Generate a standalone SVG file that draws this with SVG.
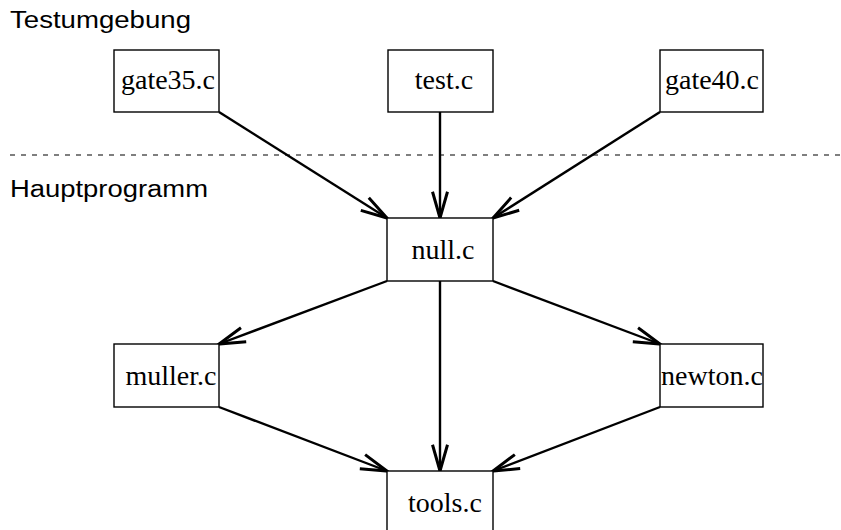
<svg xmlns="http://www.w3.org/2000/svg" width="841" height="530" viewBox="0 0 841 530">
<defs>
<style>
.box{fill:#fff;stroke:#000;stroke-width:1.4}
.lbl{font-family:"Liberation Serif","Times New Roman",serif;font-size:28px;text-anchor:middle;fill:#000}
.sec{font-family:"Liberation Sans",Arial,sans-serif;font-size:23px;fill:#000}
.edge{stroke:#000;stroke-width:2.4;fill:none;marker-end:url(#arr)}
</style>
<marker id="arr" markerUnits="userSpaceOnUse" markerWidth="30" markerHeight="20" viewBox="-22 -8 24 16" refX="0" refY="0" orient="auto" overflow="visible">
<path d="M -21 -6 L 0 0 L -21 6" fill="none" stroke="#000" stroke-width="2.4"/>
</marker>
</defs>
<rect width="841" height="530" fill="#fff"/>
<text class="sec" x="10" y="28" textLength="181" lengthAdjust="spacingAndGlyphs">Testumgebung</text>
<text class="sec" x="10" y="197" textLength="198" lengthAdjust="spacingAndGlyphs">Hauptprogramm</text>
<line x1="10" y1="155" x2="841" y2="155" stroke="#000" stroke-width="1.2" stroke-dasharray="5 6"/>
<g id="connectors">
<line class="edge" x1="219" y1="112" x2="387" y2="218"/>
<line class="edge" x1="440" y1="112" x2="440" y2="218"/>
<line class="edge" x1="660" y1="112" x2="493" y2="218"/>
<line class="edge" x1="387" y1="281" x2="219" y2="344"/>
<line class="edge" x1="493" y1="281" x2="660" y2="344"/>
<line class="edge" x1="440" y1="281" x2="440" y2="471"/>
<line class="edge" x1="219" y1="407" x2="387" y2="471"/>
<line class="edge" x1="660" y1="407" x2="493" y2="471"/>
</g>
<g id="gate35"><rect class="box" x="114" y="50" width="105" height="62"/><text class="lbl" x="168" y="89">gate35.c</text></g>
<g id="test"><rect class="box" x="388" y="50" width="105" height="62"/><text class="lbl" x="444" y="89">test.c</text></g>
<g id="gate40"><rect class="box" x="660" y="50" width="103" height="62"/><text class="lbl" x="712" y="89">gate40.c</text></g>
<g id="null"><rect class="box" x="387" y="218" width="106" height="63"/><text class="lbl" x="443" y="259">null.c</text></g>
<g id="muller"><rect class="box" x="114" y="344" width="105" height="63"/><text class="lbl" x="171" y="385">muller.c</text></g>
<g id="newton"><rect class="box" x="660" y="344" width="103" height="63"/><text class="lbl" x="712" y="385">newton.c</text></g>
<g id="tools"><rect class="box" x="387" y="471" width="106" height="63"/><text class="lbl" x="445" y="512">tools.c</text></g>
</svg>
